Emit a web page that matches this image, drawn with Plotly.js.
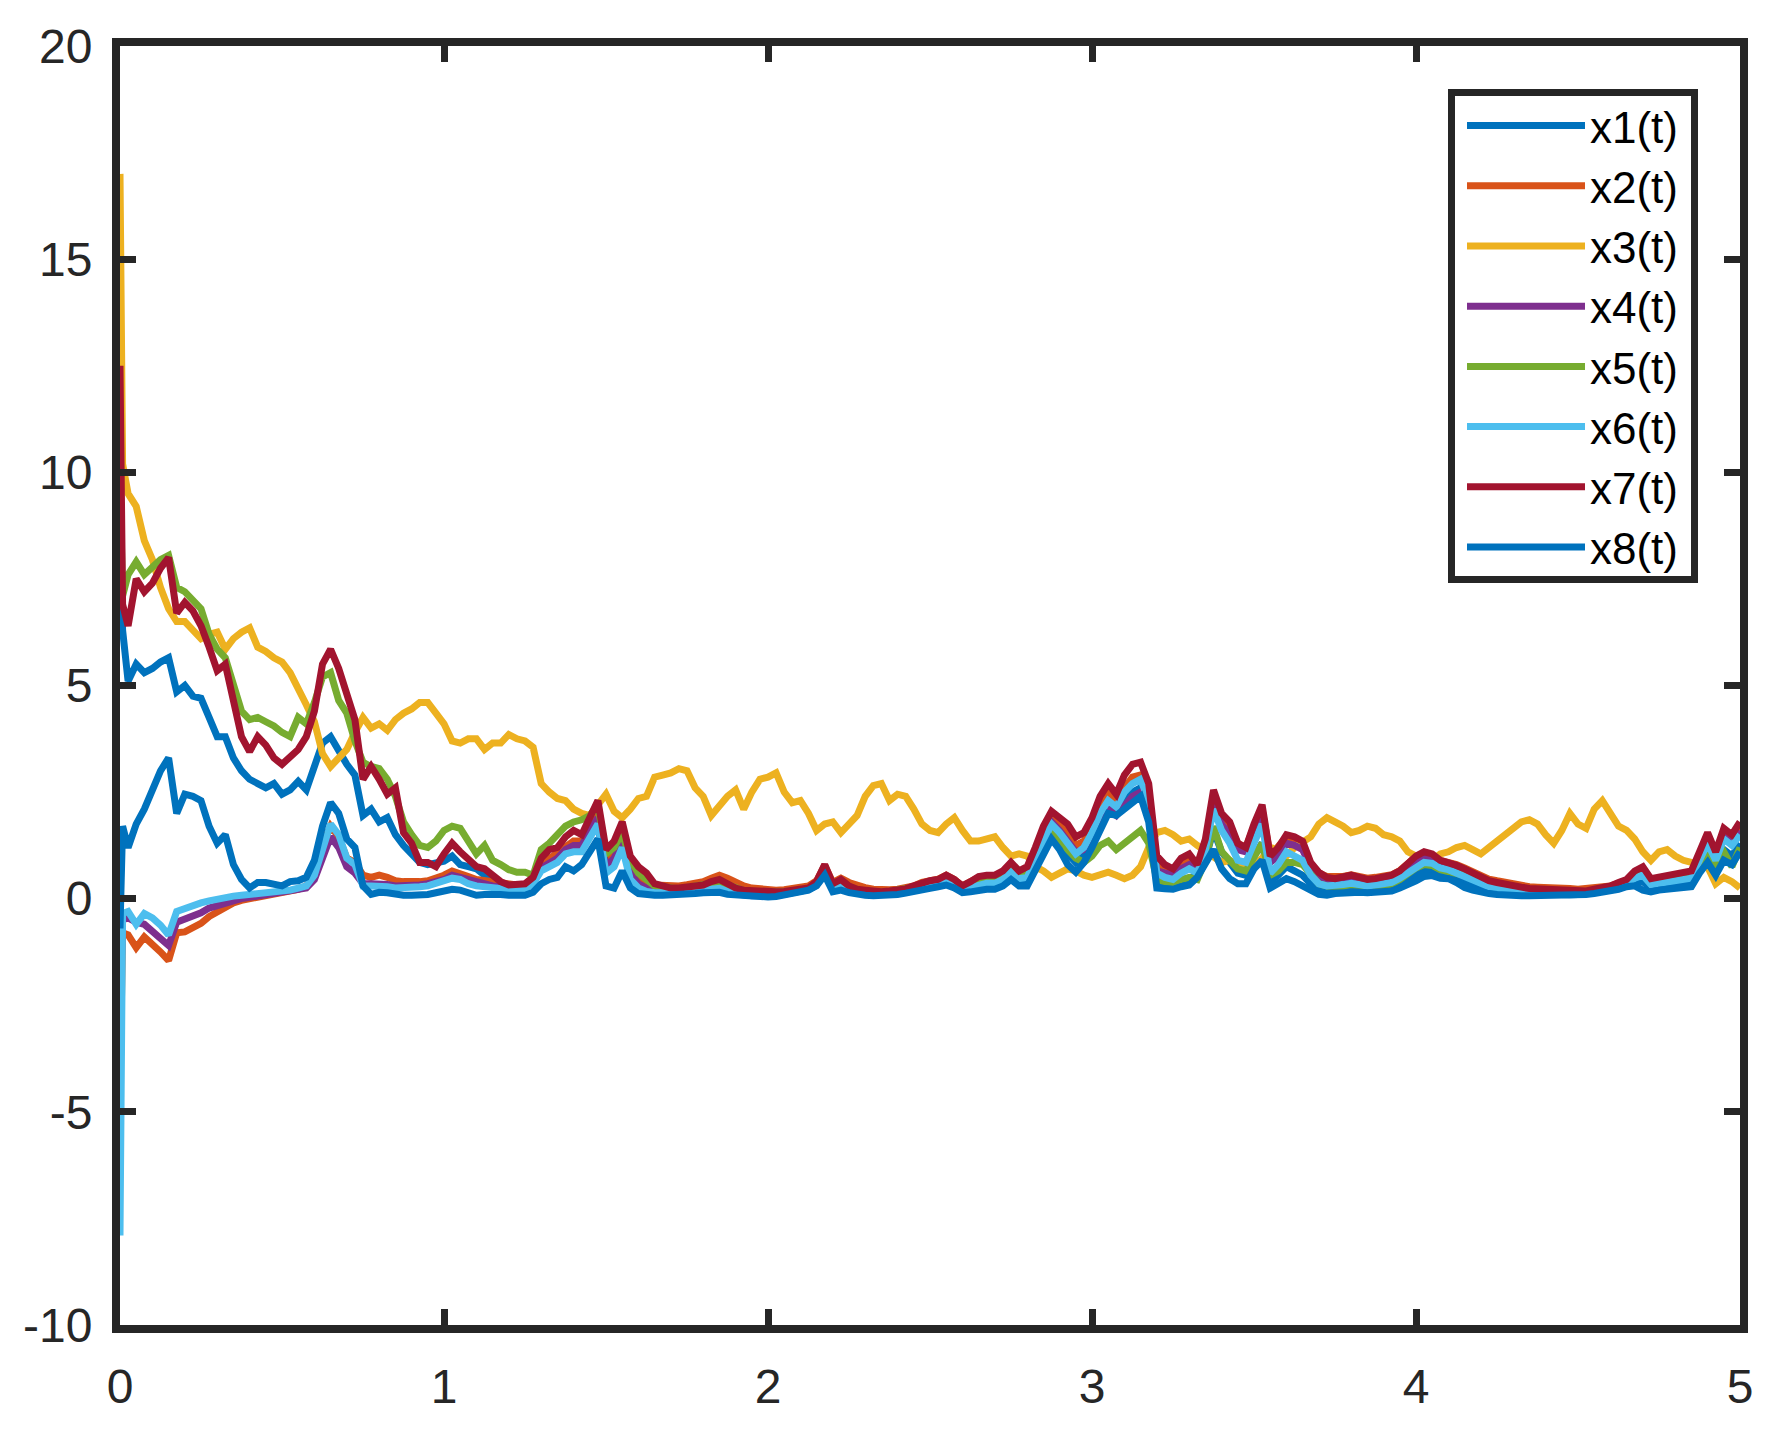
<!DOCTYPE html>
<html>
<head>
<meta charset="utf-8">
<script src="https://cdn.plot.ly/plotly-3.0.1.min.js"></script>
<style>
  html, body { margin: 0; padding: 0; background: #ffffff; }
  #chart { width: 1777px; height: 1430px; }
</style>
</head>
<body>
<div id="chart"></div>
<script>
// time grid (t)
const t = [0, 0.008,
  0.025,0.05,0.075,0.1,0.125,0.15,0.175,0.2,0.225,0.25,
  0.275,0.3,0.325,0.35,0.375,0.4,0.425,0.45,0.475,0.5,
  0.525,0.55,0.575,0.6,0.625,0.65,0.675,0.7,0.725,0.75,
  0.775,0.8,0.825,0.85,0.875,0.9,0.925,0.95,0.975,1.0,
  1.025,1.05,1.075,1.1,1.125,1.15,1.175,1.2,1.225,1.25,
  1.275,1.3,1.325,1.35,1.375,1.4,1.425,1.45,1.475,1.5,
  1.525,1.55,1.575,1.6,1.625,1.65,1.675,1.7,1.725,1.75,
  1.775,1.8,1.825,1.85,1.875,1.9,1.925,1.95,1.975,2.0,
  2.025,2.05,2.075,2.1,2.125,2.15,2.175,2.2,2.225,2.25,
  2.275,2.3,2.325,2.35,2.375,2.4,2.425,2.45,2.475,2.5,
  2.525,2.55,2.575,2.6,2.625,2.65,2.675,2.7,2.725,2.75,
  2.775,2.8,2.825,2.85,2.875,2.9,2.925,2.95,2.975,3.0,
  3.025,3.05,3.075,3.1,3.125,3.15,3.175,3.2,3.225,3.25,
  3.275,3.3,3.325,3.35,3.375,3.4,3.425,3.45,3.475,3.5,
  3.525,3.55,3.575,3.6,3.625,3.65,3.675,3.7,3.725,3.75,
  3.775,3.8,3.825,3.85,3.875,3.9,3.925,3.95,3.975,4.0,
  4.025,4.05,4.075,4.1,4.125,4.15,4.175,4.2,4.225,4.25,
  4.275,4.3,4.325,4.35,4.375,4.4,4.425,4.45,4.475,4.5,
  4.525,4.55,4.575,4.6,4.625,4.65,4.675,4.7,4.725,4.75,
  4.775,4.8,4.825,4.85,4.875,4.9,4.925,4.95,4.975,5.0];

const x1 = [8.2, 6.3,
  5.1,5.5,5.3,5.4,5.55,5.65,4.85,5.0,4.75,4.7,
  4.25,3.8,3.8,3.3,3.0,2.8,2.7,2.6,2.7,2.45,
  2.55,2.75,2.55,3.1,3.65,3.8,3.45,3.15,2.9,1.95,
  2.1,1.8,1.9,1.5,1.25,1.05,0.85,0.8,0.85,0.88,
  1.0,0.8,0.75,0.7,0.55,0.4,0.3,0.23,0.24,0.24,
  0.35,0.85,0.95,1.0,1.15,1.25,1.35,1.5,1.65,0.9,
  1.1,1.5,0.6,0.35,0.2,0.12,0.11,0.1,0.11,0.12,
  0.14,0.16,0.19,0.18,0.13,0.1,0.08,0.07,0.07,0.06,
  0.07,0.1,0.15,0.18,0.21,0.32,0.6,0.2,0.25,0.17,
  0.12,0.1,0.09,0.09,0.1,0.12,0.15,0.2,0.25,0.27,
  0.31,0.37,0.29,0.17,0.21,0.26,0.29,0.29,0.37,0.53,
  0.38,0.4,0.8,1.2,1.55,1.35,1.05,0.85,1.0,1.4,
  1.8,2.15,2.05,2.3,2.5,2.6,2.05,0.4,0.35,0.33,
  0.42,0.48,0.55,0.95,1.6,1.1,0.85,0.6,0.55,1.0,
  1.3,0.4,0.55,0.75,0.65,0.55,0.35,0.2,0.17,0.19,
  0.22,0.25,0.23,0.21,0.22,0.24,0.27,0.35,0.45,0.58,
  0.68,0.68,0.6,0.57,0.48,0.36,0.3,0.23,0.19,0.17,
  0.14,0.13,0.12,0.11,0.1,0.11,0.11,0.1,0.09,0.1,
  0.12,0.14,0.16,0.2,0.26,0.32,0.38,0.4,0.24,0.28,
  0.31,0.31,0.33,0.38,0.75,1.05,0.72,1.15,1.0,1.3];

const x2 = [-4.4, -0.8,
  -0.85,-1.15,-0.9,-1.05,-1.25,-1.45,-0.8,-0.78,-0.68,-0.58,
  -0.42,-0.3,-0.18,-0.1,-0.04,0.0,0.04,0.07,0.09,0.12,
  0.16,0.22,0.3,0.55,1.25,1.7,1.45,0.95,0.85,0.55,
  0.5,0.55,0.5,0.42,0.4,0.38,0.4,0.42,0.48,0.55,
  0.65,0.6,0.52,0.45,0.42,0.4,0.35,0.33,0.32,0.34,
  0.48,0.8,0.95,1.05,1.25,1.35,1.35,1.65,2.0,0.85,
  1.05,1.5,0.75,0.5,0.38,0.32,0.3,0.3,0.3,0.33,
  0.36,0.4,0.48,0.55,0.48,0.38,0.3,0.25,0.22,0.2,
  0.2,0.21,0.24,0.26,0.3,0.42,0.78,0.38,0.48,0.38,
  0.3,0.26,0.22,0.2,0.21,0.22,0.24,0.3,0.38,0.42,
  0.46,0.55,0.45,0.3,0.38,0.5,0.52,0.52,0.6,0.8,
  0.6,0.68,1.1,1.55,1.9,1.75,1.55,1.25,1.35,1.7,
  2.2,2.45,2.25,2.6,2.85,2.9,2.4,0.8,0.68,0.62,
  0.8,0.9,0.72,1.3,2.4,1.9,1.7,1.3,1.2,1.7,
  2.1,1.0,1.2,1.45,1.4,1.3,0.82,0.6,0.52,0.5,
  0.52,0.56,0.52,0.48,0.5,0.52,0.56,0.66,0.84,0.98,
  1.06,1.02,0.9,0.86,0.8,0.72,0.62,0.52,0.46,0.42,
  0.38,0.34,0.31,0.28,0.27,0.27,0.28,0.26,0.24,0.22,
  0.23,0.25,0.26,0.3,0.36,0.42,0.6,0.7,0.45,0.48,
  0.52,0.52,0.56,0.6,1.0,1.45,1.0,1.55,1.4,1.7];

const x3 = [17.0, 10.2,
  9.5,9.2,8.4,7.95,7.3,6.8,6.5,6.5,6.3,6.1,
  6.2,6.25,5.85,6.1,6.25,6.35,5.9,5.8,5.65,5.55,
  5.3,4.95,4.55,4.15,3.4,3.1,3.3,3.5,3.9,4.25,
  4.0,4.1,3.95,4.2,4.35,4.45,4.6,4.6,4.35,4.1,
  3.7,3.65,3.75,3.75,3.5,3.65,3.65,3.85,3.75,3.7,
  3.55,2.7,2.5,2.35,2.3,2.1,2.0,1.95,2.2,2.45,
  2.05,1.9,2.1,2.35,2.4,2.85,2.9,2.95,3.05,3.0,
  2.6,2.4,1.95,2.2,2.4,2.55,2.1,2.5,2.8,2.85,
  2.95,2.5,2.25,2.3,2.0,1.6,1.75,1.8,1.55,1.75,
  1.95,2.4,2.65,2.7,2.3,2.45,2.4,2.1,1.75,1.6,
  1.55,1.75,1.9,1.6,1.35,1.35,1.4,1.45,1.2,1.0,
  1.05,1.0,0.75,0.65,0.5,0.6,0.7,0.65,0.55,0.5,
  0.55,0.62,0.55,0.47,0.55,0.75,1.2,1.55,1.6,1.5,
  1.35,1.4,1.25,1.1,0.95,0.85,0.9,0.8,0.78,0.8,
  0.95,1.2,1.15,1.0,1.2,1.35,1.45,1.75,1.9,1.8,
  1.7,1.55,1.6,1.7,1.65,1.5,1.45,1.35,1.1,1.0,
  0.95,0.9,1.05,1.1,1.2,1.25,1.15,1.05,1.2,1.35,
  1.45,1.6,1.8,1.85,1.75,1.5,1.3,1.6,2.0,1.75,
  1.65,2.1,2.3,2.0,1.7,1.6,1.4,1.1,0.9,1.1,
  1.15,1.0,0.9,0.85,0.8,0.75,0.35,0.5,0.4,0.25];

const x4 = [-2.5, -0.5,
  -0.45,-0.55,-0.6,-0.75,-0.9,-1.1,-0.55,-0.48,-0.4,-0.33,
  -0.22,-0.15,-0.1,-0.05,0.0,0.03,0.06,0.08,0.1,0.12,
  0.15,0.2,0.25,0.45,1.0,1.45,1.2,0.75,0.6,0.35,
  0.35,0.35,0.33,0.3,0.3,0.3,0.32,0.35,0.4,0.45,
  0.55,0.5,0.42,0.36,0.33,0.3,0.27,0.25,0.25,0.27,
  0.4,0.72,0.85,0.95,1.15,1.25,1.25,1.55,1.9,0.75,
  0.95,1.35,0.6,0.35,0.25,0.2,0.18,0.17,0.17,0.19,
  0.21,0.23,0.28,0.3,0.22,0.16,0.13,0.11,0.11,0.1,
  0.11,0.13,0.17,0.2,0.23,0.35,0.68,0.26,0.33,0.22,
  0.16,0.14,0.12,0.12,0.13,0.15,0.18,0.24,0.3,0.33,
  0.37,0.45,0.36,0.22,0.28,0.36,0.39,0.39,0.48,0.66,
  0.5,0.55,1.0,1.45,1.8,1.6,1.35,1.1,1.15,1.45,
  1.85,2.1,1.95,2.2,2.4,2.5,2.05,0.65,0.58,0.55,
  0.7,0.8,0.65,1.2,2.2,1.75,1.5,1.15,1.1,1.5,
  1.95,0.85,1.0,1.3,1.25,1.15,0.75,0.5,0.4,0.38,
  0.4,0.44,0.4,0.37,0.38,0.4,0.45,0.55,0.72,0.85,
  0.95,0.92,0.8,0.75,0.68,0.6,0.5,0.4,0.35,0.31,
  0.27,0.24,0.22,0.2,0.19,0.18,0.19,0.17,0.15,0.14,
  0.16,0.19,0.21,0.26,0.33,0.4,0.55,0.62,0.38,0.42,
  0.46,0.46,0.5,0.55,0.95,1.35,0.95,1.45,1.3,1.6];

const x5 = [9.8, 7.1,
  7.6,7.9,7.6,7.8,7.95,8.05,7.3,7.2,7.0,6.8,
  6.2,5.85,5.65,5.05,4.4,4.2,4.25,4.15,4.05,3.9,
  3.8,4.25,4.1,4.6,5.2,5.3,4.65,4.35,3.7,3.2,
  3.1,3.05,2.8,2.4,1.8,1.5,1.25,1.2,1.35,1.6,
  1.7,1.65,1.35,1.05,1.25,0.9,0.8,0.68,0.62,0.62,
  0.55,1.15,1.3,1.5,1.7,1.8,1.85,1.95,2.2,1.05,
  1.2,1.55,0.9,0.6,0.45,0.3,0.28,0.24,0.23,0.26,
  0.28,0.3,0.36,0.4,0.32,0.23,0.19,0.16,0.15,0.15,
  0.15,0.16,0.18,0.2,0.23,0.35,0.7,0.3,0.4,0.27,
  0.2,0.18,0.16,0.15,0.17,0.19,0.21,0.27,0.34,0.38,
  0.4,0.48,0.4,0.27,0.35,0.45,0.48,0.48,0.55,0.72,
  0.55,0.62,0.95,1.3,1.55,1.35,1.1,0.95,0.85,1.0,
  1.25,1.35,1.15,1.3,1.5,1.6,1.3,0.45,0.4,0.38,
  0.45,0.5,0.45,0.9,1.7,1.1,0.9,0.7,0.65,0.95,
  1.3,0.55,0.65,0.85,0.85,0.8,0.55,0.35,0.3,0.28,
  0.3,0.33,0.3,0.27,0.28,0.3,0.35,0.45,0.6,0.72,
  0.8,0.78,0.68,0.65,0.6,0.55,0.48,0.38,0.33,0.3,
  0.26,0.24,0.22,0.2,0.19,0.18,0.19,0.17,0.15,0.13,
  0.15,0.18,0.2,0.25,0.32,0.38,0.5,0.55,0.38,0.4,
  0.45,0.45,0.5,0.52,0.85,1.1,0.8,1.1,0.75,1.2];

const x6 = [-7.9, -0.35,
  -0.3,-0.6,-0.35,-0.45,-0.62,-0.85,-0.3,-0.22,-0.16,-0.1,
  -0.05,0.0,0.03,0.06,0.08,0.1,0.12,0.13,0.14,0.15,
  0.2,0.25,0.3,0.55,1.2,1.75,1.5,0.95,0.8,0.3,
  0.3,0.3,0.28,0.25,0.25,0.26,0.28,0.3,0.35,0.4,
  0.48,0.45,0.35,0.3,0.28,0.27,0.22,0.2,0.2,0.22,
  0.35,0.65,0.75,0.85,1.05,1.1,1.1,1.4,1.75,0.6,
  0.75,1.2,0.45,0.25,0.17,0.14,0.13,0.13,0.14,0.16,
  0.18,0.2,0.24,0.24,0.17,0.13,0.11,0.09,0.09,0.08,
  0.09,0.12,0.17,0.2,0.23,0.35,0.65,0.24,0.3,0.2,
  0.15,0.13,0.11,0.11,0.12,0.14,0.17,0.23,0.28,0.31,
  0.35,0.42,0.33,0.2,0.26,0.33,0.36,0.36,0.45,0.62,
  0.47,0.5,0.95,1.4,1.75,1.55,1.3,1.05,1.2,1.55,
  2.0,2.3,2.15,2.5,2.7,2.8,2.3,0.6,0.5,0.45,
  0.6,0.7,0.6,1.15,2.1,1.6,1.3,0.9,0.85,1.35,
  1.75,0.6,0.8,1.1,1.0,0.9,0.55,0.35,0.3,0.3,
  0.33,0.36,0.33,0.3,0.32,0.34,0.38,0.48,0.62,0.75,
  0.85,0.83,0.72,0.68,0.6,0.5,0.42,0.33,0.28,0.25,
  0.21,0.19,0.17,0.15,0.14,0.14,0.15,0.13,0.12,0.11,
  0.13,0.16,0.18,0.23,0.29,0.36,0.48,0.55,0.33,0.36,
  0.4,0.4,0.43,0.48,0.9,1.3,0.9,1.4,1.25,1.5];

const x7 = [12.5, 6.9,
  6.4,7.5,7.2,7.4,7.75,8.0,6.7,6.95,6.75,6.4,
  5.9,5.35,5.5,4.55,3.8,3.45,3.8,3.6,3.3,3.15,
  3.35,3.5,3.8,4.4,5.5,5.85,5.4,4.75,4.2,2.8,
  3.1,2.8,2.45,2.6,1.55,1.3,0.85,0.85,0.75,1.05,
  1.3,1.1,0.95,0.75,0.7,0.55,0.4,0.32,0.33,0.35,
  0.5,0.95,1.15,1.2,1.45,1.6,1.5,1.9,2.3,1.15,
  1.35,1.8,1.0,0.75,0.6,0.35,0.3,0.25,0.25,0.28,
  0.3,0.32,0.4,0.45,0.35,0.25,0.2,0.18,0.17,0.16,
  0.16,0.17,0.2,0.22,0.25,0.4,0.8,0.35,0.45,0.3,
  0.22,0.2,0.17,0.16,0.18,0.2,0.23,0.3,0.38,0.42,
  0.45,0.55,0.45,0.3,0.4,0.52,0.55,0.55,0.65,0.85,
  0.65,0.75,1.2,1.7,2.05,1.9,1.75,1.45,1.55,1.9,
  2.4,2.7,2.45,2.9,3.15,3.2,2.7,1.0,0.8,0.7,
  0.95,1.05,0.8,1.4,2.55,2.0,1.8,1.3,1.2,1.75,
  2.2,1.0,1.2,1.5,1.45,1.35,0.85,0.62,0.5,0.47,
  0.5,0.55,0.5,0.45,0.47,0.5,0.55,0.65,0.85,1.0,
  1.1,1.05,0.9,0.85,0.78,0.7,0.6,0.48,0.42,0.38,
  0.33,0.3,0.27,0.24,0.23,0.22,0.23,0.2,0.18,0.16,
  0.18,0.22,0.24,0.3,0.38,0.45,0.65,0.75,0.47,0.5,
  0.55,0.55,0.6,0.65,1.1,1.55,1.1,1.65,1.5,1.8];

const x8 = [-0.7, 1.7,
  1.2,1.75,2.1,2.6,3.0,3.3,2.0,2.45,2.4,2.3,
  1.7,1.3,1.5,0.8,0.45,0.25,0.38,0.38,0.32,0.3,
  0.4,0.42,0.5,0.9,1.7,2.25,2.0,1.4,1.2,0.3,
  0.1,0.15,0.14,0.1,0.08,0.08,0.08,0.1,0.14,0.17,
  0.22,0.2,0.12,0.08,0.1,0.12,0.1,0.08,0.08,0.08,
  0.15,0.35,0.45,0.5,0.75,0.65,0.8,1.1,1.4,0.3,
  0.25,0.65,0.25,0.12,0.08,0.08,0.08,0.08,0.09,0.1,
  0.12,0.14,0.16,0.15,0.1,0.08,0.06,0.05,0.05,0.04,
  0.05,0.08,0.14,0.16,0.2,0.3,0.55,0.16,0.2,0.14,
  0.1,0.08,0.07,0.07,0.08,0.1,0.13,0.18,0.22,0.24,
  0.28,0.32,0.25,0.14,0.16,0.2,0.22,0.22,0.3,0.45,
  0.3,0.3,0.65,1.0,1.4,1.15,0.8,0.62,0.85,1.2,
  1.6,2.0,1.95,2.1,2.3,2.4,1.8,0.25,0.23,0.22,
  0.28,0.32,0.5,0.8,1.15,0.7,0.47,0.35,0.35,0.7,
  0.9,0.25,0.35,0.47,0.4,0.32,0.2,0.1,0.08,0.12,
  0.14,0.16,0.15,0.14,0.15,0.16,0.18,0.25,0.32,0.42,
  0.52,0.54,0.48,0.47,0.38,0.26,0.2,0.15,0.12,0.1,
  0.08,0.08,0.07,0.07,0.07,0.08,0.08,0.07,0.07,0.08,
  0.1,0.12,0.14,0.18,0.22,0.28,0.3,0.2,0.16,0.2,
  0.22,0.22,0.22,0.28,0.6,0.85,0.55,0.9,0.8,1.1];

const seriesNames = ['x1(t)','x2(t)','x3(t)','x4(t)','x5(t)','x6(t)','x7(t)','x8(t)'];
const seriesColors = ['#0072BD','#D95319','#EDB120','#7E2F8E','#77AC30','#4DBEEE','#A2142F','#0072BD'];
const seriesData = [x1, x2, x3, x4, x5, x6, x7, x8];

const xTickVals = [0, 1, 2, 3, 4, 5];
const xTickText = ['0', '1', '2', '3', '4', '5'];
const yTickVals = [-10, -5, 0, 5, 10, 15, 20];
const yTickText = ['-10', '-5', '0', '5', '10', '15', '20'];

const axisColor = '#262626';
const fontFam = '"Liberation Sans", Arial, Helvetica, sans-serif';

const traces = seriesData.map((y, i) => ({
  type: 'scatter',
  mode: 'lines',
  x: t,
  y: y,
  name: seriesNames[i],
  line: { color: seriesColors[i], width: 7 }
}));

const axisCommon = {
  showgrid: false,
  zeroline: false,
  showline: true,
  linecolor: axisColor,
  linewidth: 8,
  mirror: 'ticks',
  ticks: 'inside',
  ticklen: 16,
  tickwidth: 7,
  tickcolor: axisColor,
  tickfont: { family: fontFam, size: 48, color: axisColor }
};

// plot area in pixels: left 120, right 1740, top 46, bottom 1325
const layout = {
  width: 1777,
  height: 1430,
  margin: { l: 120, r: 37, t: 46, b: 105 },
  paper_bgcolor: '#ffffff',
  plot_bgcolor: '#ffffff',
  showlegend: true,
  xaxis: Object.assign({}, axisCommon, {
    range: [0, 5],
    tickmode: 'array',
    tickvals: xTickVals,
    ticktext: xTickText,
    ticklabelstandoff: 12
  }),
  yaxis: Object.assign({}, axisCommon, {
    range: [-10, 20],
    tickmode: 'array',
    tickvals: yTickVals,
    ticktext: yTickText,
    ticklabelstandoff: 10
  }),
  shapes: [{
    type: 'rect',
    xref: 'paper', yref: 'paper',
    x0: (1451.5 - 120) / 1620, x1: (1694.5 - 120) / 1620,
    y0: (1325 - 579.5) / 1279, y1: (1325 - 92.5) / 1279,
    line: { color: axisColor, width: 7 },
    fillcolor: '#ffffff',
    layer: 'above'
  }],
  legend: {
    x: (1462 - 120) / 1620,
    y: (1325 - 90.5) / 1279,
    xanchor: 'left',
    yanchor: 'top',
    bgcolor: 'rgba(0,0,0,0)',
    borderwidth: 0,
    font: { family: fontFam, size: 44, color: '#000000' },
    itemwidth: 118,
    tracegroupgap: 0
  }
};

Plotly.newPlot('chart', traces, layout, { staticPlot: true, displayModeBar: false });
</script>
</body>
</html>
